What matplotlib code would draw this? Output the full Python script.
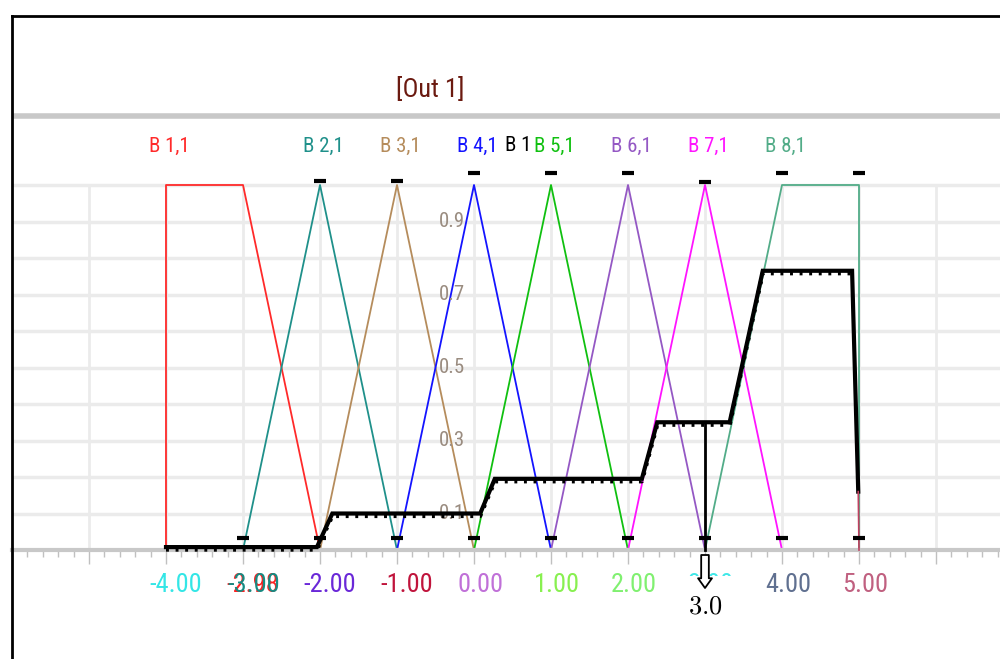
import matplotlib
matplotlib.use("Agg")
import matplotlib.pyplot as plt
import matplotlib.transforms as mtransforms
from matplotlib import font_manager
from matplotlib.patches import Rectangle

# funciones de pertenencia (salida Out 1)
b11_x = [-4, -4, -3, -2]
b11_y = [0, 1, 1, 0]
b21_x = [-3, -2, -1]
b21_y = [0, 1, 0]
b31_x = [-2, -1, 0]
b31_y = [0, 1, 0]
b41_x = [-1, 0, 1]
b41_y = [0, 1, 0]
b51_x = [0, 1, 2]
b51_y = [0, 1, 0]
b61_x = [1, 2, 3]
b61_y = [0, 1, 0]
b71_x = [2, 3, 4]
b71_y = [0, 1, 0]
b81_x = [3, 4, 5, 5]
b81_y = [0, 1, 1, 0]

mf_names = ["B 1,1", "B 2,1", "B 3,1", "B 4,1", "B 5,1", "B 6,1", "B 7,1", "B 8,1"]
mf_label_x = [-4, -2, -1, 0, 1, 2, 3, 4]
mf_colors = ["#ff2a2a", "#1f908a", "#b58c5c", "#1414ff", "#10c010", "#9458c4", "#ff14ff", "#52ac88"]

# salida agregada (curva negra)
out_x = [-4.0, -2.04, -1.84, 0.08, 0.27, 2.18, 2.38, 3.32, 3.75, 4.91, 4.99]
out_y = [0.008, 0.008, 0.10, 0.10, 0.195, 0.195, 0.35, 0.35, 0.765, 0.765, 0.16]
crisp_x = 3.0
crisp_y = 0.35

# marcas negras
top_dash_x = [-2, -1, 0, 1, 2, 3, 4, 5]
top_dash_y = [1.011, 1.011, 1.033, 1.033, 1.033, 1.008, 1.033, 1.033]
bot_dash_x = [-3, -2, -1, 0, 1, 2, 3, 4, 5]
bot_dash_y = [0.033] * 9

tick_vals = [-4, -3, -2.98, -2, -1, 0, 1, 2, 3, 4, 5]
tick_text = ["-4.00", "-2.98", "-3.00", "-2.00", "-1.00", "0.00", "1.00", "2.00", "3.00", "4.00", "5.00"]
tick_colors = ["#33e6e6", "#ff2020", "#178a82", "#6a28d8", "#c0143c", "#c070d8",
               "#88f050", "#80f070", "#40e8e8", "#607090", "#c06080"]
ylab_vals = [0.9, 0.7, 0.5, 0.3, 0.1]


# buscar una fuente estrecha
def fuente_estrecha():
    prefer = ["Liberation Sans Narrow", "Roboto Condensed", "Open Sans Condensed",
              "Noto Sans Condensed", "DejaVu Sans Condensed"]
    lista = font_manager.fontManager.ttflist
    for p in prefer:
        for f in lista:
            if f.name == p and f.style == "normal" and f.weight in (400, "normal", "regular"):
                return font_manager.FontProperties(fname=f.fname), True
    mejores = []
    for f in lista:
        st = str(f.stretch)
        if st in ("condensed", "extra-condensed", "ultra-condensed", "semi-condensed") \
                and f.style == "normal" and f.weight in (400, "normal", "regular"):
            rango = {"ultra-condensed": 0, "extra-condensed": 1, "condensed": 2, "semi-condensed": 3}[st]
            mejores.append((rango, "Sans" not in f.name, f.fname))
    if mejores:
        mejores.sort()
        return font_manager.FontProperties(fname=mejores[0][2]), True
    return font_manager.FontProperties(family="DejaVu Sans"), False


fp, es_estrecha = fuente_estrecha()
k = 1.0 if es_estrecha else 0.75


def fnt(size):
    p = fp.copy()
    p.set_size(size * k)
    return p


fig = plt.figure(figsize=(10, 6.59), dpi=100)
ax = fig.add_axes([12 / 1000, 0, 988 / 1000, 643 / 659])
ax.set_xlim(-6.0, 6.831)
ax.set_ylim(-0.2986, 1.463)
ax.set_facecolor("white")

for s in ["top", "right", "left"]:
    ax.spines[s].set_visible(False)
ax.spines["bottom"].set_position(("data", 0))
ax.spines["bottom"].set_color("#c8c8c8")
ax.spines["bottom"].set_linewidth(3)
ax.set_yticks([])
ax.set_xticks(range(-5, 7))
ax.set_xticks([v / 5 for v in range(-30, 35)], minor=True)
ax.tick_params(axis="x", which="major", length=10, color="#c0c0c0", width=1, labelbottom=False)
ax.tick_params(axis="x", which="minor", length=5, color="#c0c0c0", width=1)

# rejilla
for g in range(1, 11):
    ax.axhline(g / 10, color="#ebebeb", lw=2.5, zorder=0)
ax.vlines(range(-5, 7), 0, 1, color="#ebebeb", lw=2, zorder=0)
ax.axhline(1.189, color="#c8c8c8", lw=4, zorder=0)

# marco
fig.add_artist(plt.Line2D([12 / 1000, 12 / 1000], [0, 643 / 659], color="black", lw=2))
fig.add_artist(plt.Line2D([12 / 1000, 1], [643 / 659, 643 / 659], color="black", lw=2))

mfs = [(b11_x, b11_y), (b21_x, b21_y), (b31_x, b31_y), (b41_x, b41_y),
       (b51_x, b51_y), (b61_x, b61_y), (b71_x, b71_y), (b81_x, b81_y)]
for (xx, yy), c in zip(mfs, mf_colors):
    ax.plot(xx, yy, color=c, lw=1.3, zorder=2)

# curva de salida con rayado
ax.plot(out_x, out_y, color="black", lw=3, zorder=3, solid_joinstyle="miter")
hatch = mtransforms.offset_copy(ax.transData, fig=fig, y=-2.5, units="dots")
ax.plot(out_x[:-1], out_y[:-1], color="black", lw=3, dashes=(0.7, 1.6), transform=hatch, zorder=3)
ax.plot([out_x[-1], 5.0], [out_y[-1], 0], color="#c04060", lw=1.2, zorder=3)
ax.plot([crisp_x, crisp_x], [0, crisp_y], color="black", lw=2, zorder=3)

ax.plot(top_dash_x, top_dash_y, ls="none", marker="_", ms=9, mew=3, color="black", zorder=4)
ax.plot(bot_dash_x, bot_dash_y, ls="none", marker="_", ms=9, mew=3, color="black", zorder=4)

# etiquetas de las funciones
for name, x, c in zip(mf_names, mf_label_x, mf_colors):
    ax.annotate(name, (x, 1.0), xytext=(-17 * 0.72, 39 * 0.72), textcoords="offset points",
                ha="left", va="center", color=c, fontproperties=fnt(15))
ax.annotate("B 1", (0, 1.0), xytext=(31 * 0.72, 39 * 0.72), textcoords="offset points",
            ha="left", va="center", color="black", fontproperties=fnt(15))

# eje x
for v, t, c in zip(tick_vals, tick_text, tick_colors):
    ax.annotate(t, (v, 0), xytext=(-17 * 0.72, -35 * 0.72), textcoords="offset points",
                ha="left", va="center", color=c, fontproperties=fnt(19), zorder=3)

# eje y
for v in ylab_vals:
    ax.annotate(f"{v:.1f}", (0, v), xytext=(-9 * 0.72, 0), textcoords="offset points",
                ha="right", va="center", color="#9a8c80", fontproperties=fnt(15), zorder=2)

ax.text(-0.57, 1.263, "[Out 1]", color="#6b1a10", fontproperties=fnt(19), ha="center", va="center")

# valor defuzzificado
ax.add_patch(Rectangle((680 / 1000, (659 - 620) / 659), 66 / 1000, 44 / 659,
                       transform=fig.transFigure, facecolor="white", edgecolor="none",
                       zorder=5, clip_on=False))
tip = mtransforms.offset_copy(ax.transData, fig=fig, y=-38, units="dots")
ax.annotate("", xy=(crisp_x, 0), xycoords=tip, xytext=(0, 33 * 0.72), textcoords="offset points",
            arrowprops=dict(arrowstyle="simple,head_length=7,head_width=10,tail_width=5.5",
                            mutation_scale=1, fc="white", ec="black", lw=1.3,
                            shrinkA=0, shrinkB=0), zorder=6)
ax.annotate(r"$3.0$", (crisp_x, 0), xytext=(0, -56 * 0.72), textcoords="offset points",
            ha="center", va="center", fontsize=19, math_fontfamily="cm", color="black", zorder=6)

fig.savefig("out.png", dpi=100, facecolor="white")
